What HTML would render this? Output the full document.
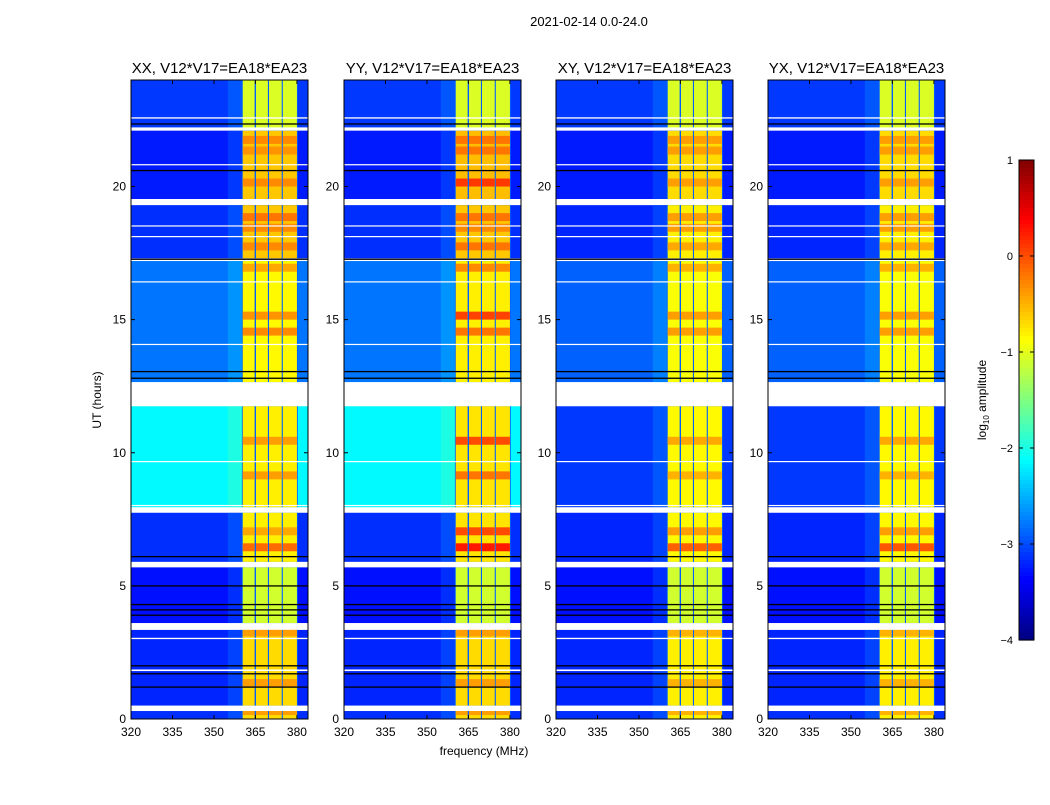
<!DOCTYPE html>
<html><head><meta charset="utf-8">
<style>
body{margin:0;background:#fff;width:1050px;height:800px;overflow:hidden;font-family:"Liberation Sans",sans-serif;}
svg text{font-family:"Liberation Sans",sans-serif;}
</style></head>
<body>
<svg id="fig" width="1050" height="800" xmlns="http://www.w3.org/2000/svg">
<text x="589" y="26" font-size="13" text-anchor="middle">2021-02-14 0.0-24.0</text>
<text x="484" y="755" font-size="12" text-anchor="middle">frequency (MHz)</text>
<text transform="translate(101,400) rotate(-90)" font-size="12" text-anchor="middle">UT (hours)</text>
<g id="panels"></g>
<g id="cbar"></g>
</svg>
<script>
// ---- data ----
const panelTitles = ["XX, V12*V17=EA18*EA23","YY, V12*V17=EA18*EA23","XY, V12*V17=EA18*EA23","YX, V12*V17=EA18*EA23"];
const panelLefts = [131,344,556,768];
const xTicks = [320,335,350,365,380];
const yTicks = [0,5,10,15,20];
const cbarTicks = [1,0,-1,-2,-3,-4];
// time segments: [startH, endH]
const segStart = [0.0,0.5,3.6,5.9,7.95,12.65,17.3,19.5,22.1];
const segEnd   = [0.3,3.35,5.7,7.75,11.75,17.2,19.3,22.1,24.0];
// background log amplitude per segment per panel
const bgXX = [-3.15,-3.2,-3.3,-3.15,-2.15,-2.8,-3.15,-3.25,-3.1];
const bgYY = [-3.15,-3.2,-3.3,-3.15,-2.15,-2.8,-3.15,-3.25,-3.1];
const bgXY = [-3.15,-3.2,-3.3,-3.2,-3.1,-2.9,-3.2,-3.25,-3.1];
const bgYX = [-3.15,-3.2,-3.3,-3.2,-3.1,-2.9,-3.2,-3.25,-3.1];
const bgs = [bgXX,bgYY,bgXY,bgYX];
// RFI column level per segment
const rfiXX = [-0.7,-0.7,-1.1,-0.8,-0.8,-0.85,-0.6,-0.6,-1.05];
const rfiYY = [-0.7,-0.7,-1.1,-0.75,-0.75,-0.8,-0.6,-0.55,-1.05];
const rfiXY = [-0.8,-0.8,-1.1,-0.85,-0.85,-0.9,-0.8,-0.7,-1.05];
const rfiYX = [-0.8,-0.8,-1.1,-0.85,-0.85,-0.9,-0.8,-0.7,-1.05];
const rfis = [rfiXX,rfiYY,rfiXY,rfiYX];
// RFI sub-band edges (MHz)
const bandStart = [360.4,365.2,369.9,374.9];
const bandEnd   = [364.7,369.5,374.5,380.0];
// hot (orange/red) rows: hour, level
const hotH = [21.6,21.2,20.0,18.7,18.3,17.6,16.8,15.0,14.4,10.3,9.0,6.9,6.3,3.1,1.2,0.15];
const hotXX = [-0.3,-0.35,-0.3,-0.2,-0.3,-0.3,-0.45,-0.35,-0.3,-0.4,-0.4,-0.45,-0.15,-0.4,-0.4,-0.4];
const hotYY = [-0.2,-0.2,0.1,-0.2,-0.3,-0.2,-0.3,0.05,-0.2,0.0,-0.2,0.0,0.25,-0.4,-0.4,-0.4];
const hotXY = [-0.4,-0.4,-0.4,-0.4,-0.4,-0.45,-0.5,-0.4,-0.4,-0.45,-0.5,-0.4,-0.1,-0.5,-0.5,-0.5];
const hotYX = [-0.4,-0.4,-0.4,-0.4,-0.4,-0.45,-0.5,-0.4,-0.4,-0.45,-0.5,-0.4,-0.05,-0.5,-0.5,-0.5];
const hots = [hotXX,hotYY,hotXY,hotYX];
// flagged (white) rows
const whiteH = [0.3,22.1,22.55,19.38,11.75,17.22,7.75,5.7,3.35,20.8,16.4,14.05,9.65,8.0,3.0,1.8,18.5,18.1];
const whiteW = [0.2,0.12,0.05,0.15,0.9,0.08,0.2,0.2,0.25,0.04,0.04,0.04,0.04,0.04,0.05,0.06,0.04,0.04];
// black (bad) rows
const blackH = [22.35,20.6,17.27,13.05,12.8,6.1,5.0,4.3,4.1,3.9,2.0,1.7,1.2];

// ---- helpers ----
const NS="http://www.w3.org/2000/svg";
function jet(v){let t=(v+4)/5;t=Math.max(0,Math.min(1,t));
 const f=x=>Math.max(0,Math.min(1,1.5-Math.abs(4*t-x)));
 return `rgb(${Math.round(255*f(3))},${Math.round(255*f(2))},${Math.round(255*f(1))})`;}
const W=177,top0=80,bot0=719;
const xs=(f,L)=>L+(f-320)*(W/64);
const ys=h=>bot0-h*(bot0-top0)/24;
function mk(tag,attrs,parent){const e=document.createElementNS(NS,tag);for(const k in attrs)e.setAttribute(k,attrs[k]);parent.appendChild(e);return e;}

const panels=document.getElementById('panels');
panelLefts.forEach((L,p)=>{
 const g=mk('g',{},panels);
 
 
 mk('rect',{x:L,y:top0,width:W,height:bot0-top0,fill:'#fff'},g);
 segStart.forEach((s,i)=>{
  const y1=ys(segEnd[i]),y2=ys(s);
  const r=mk('rect',{x:L,y:y1,width:W,height:y2-y1,fill:jet(bgs[p][i])},g);
  
  
  mk('rect',{x:xs(355,L),y:y1,width:xs(360.4,L)-xs(355,L),height:y2-y1,fill:jet(bgs[p][i]+0.25),opacity:0.6},g);
  mk('rect',{x:xs(bandStart[0]-0.3,L),y:y1,width:xs(bandEnd[3]+0.3,L)-xs(bandStart[0]-0.3,L),height:y2-y1,fill:jet(-2.9)},g);
  bandStart.forEach((b,j)=>{
   const c=mk('rect',{x:xs(b,L),y:y1,width:xs(bandEnd[j],L)-xs(b,L),height:y2-y1,fill:jet(rfis[p][i])},g);
   
   
  });
 });
 hotH.forEach((h,i)=>{
  bandStart.forEach((b,j)=>{
   const c=mk('rect',{x:xs(b,L),y:ys(h+0.3),width:xs(bandEnd[j],L)-xs(b,L),height:ys(h)-ys(h+0.3),fill:jet(hots[p][i])},g);
   
   
  });
 });
 whiteH.forEach((h,i)=>{
  const r=mk('rect',{x:L,y:ys(h+whiteW[i]),width:W,height:Math.max(1.2,ys(h)-ys(h+whiteW[i])),fill:'#fff'},g);
  
  
 });
 blackH.forEach(h=>{
  const r=mk('rect',{x:L,y:ys(h)-0.6,width:W,height:1.3,fill:'#000'},g);
  
  
 });
 mk('rect',{x:L,y:top0,width:W,height:bot0-top0,fill:'none',stroke:'#000','stroke-width':1},g);
 const t=mk('text',{x:L+W/2,y:73,'font-size':15,'text-anchor':'middle'},g);t.textContent=panelTitles[p];
 
 
 xTicks.forEach(v=>{const x=xs(v,L);
  mk('line',{x1:x,x2:x,y1:bot0,y2:bot0-4,stroke:'#000'},g);
  mk('line',{x1:x,x2:x,y1:top0,y2:top0+4,stroke:'#000'},g);
  const tl=mk('text',{x:x,y:736,'font-size':12,'text-anchor':'middle'},g);tl.textContent=v;
  
  });
 yTicks.forEach(v=>{const y=ys(v);
  mk('line',{x1:L,x2:L+4,y1:y,y2:y,stroke:'#000'},g);
  mk('line',{x1:L+W,x2:L+W-4,y1:y,y2:y,stroke:'#000'},g);
  const tl=mk('text',{x:L-5,y:y+4,'font-size':12,'text-anchor':'end'},g);tl.textContent=v;
  
  });
});
// colorbar
const cb=document.getElementById('cbar');
const cx=1019,cw=15,cTop=160,cBot=640;
for(let i=0;i<120;i++){const v=1-5*i/120;
 mk('rect',{x:cx,y:cTop+i*(cBot-cTop)/120,width:cw,height:(cBot-cTop)/120+0.6,fill:jet(v-5/240)},cb);}
mk('rect',{x:cx,y:cTop,width:cw,height:cBot-cTop,fill:'none',stroke:'#000'},cb);
cbarTicks.forEach(v=>{const y=cTop+(1-v)*(cBot-cTop)/5;
 mk('line',{x1:cx,x2:cx+4,y1:y,y2:y,stroke:'#000'},cb);
 mk('line',{x1:cx+cw,x2:cx+cw-4,y1:y,y2:y,stroke:'#000'},cb);
 const t=mk('text',{x:1013,y:y+4,'font-size':11,'text-anchor':'end'},cb);t.textContent=v<0?'\u2212'+(-v):v;
 
 });
const cl=mk('text',{transform:'translate(986,400) rotate(-90)','font-size':12,'text-anchor':'middle'},cb);
cl.innerHTML='log<tspan font-size="8" dy="3">10</tspan><tspan dy="-3"> amplitude</tspan>';


</script>
</body></html>
